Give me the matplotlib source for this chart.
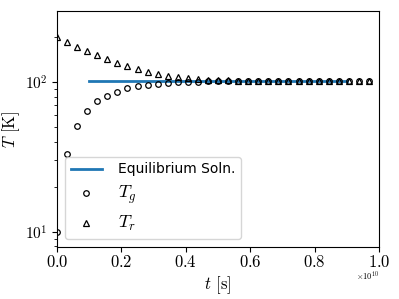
import numpy as np
import matplotlib
matplotlib.use("Agg")
import matplotlib.pyplot as plt
from matplotlib.ticker import ScalarFormatter, FuncFormatter

plt.rcParams['font.family'] = ['cmr10', 'DejaVu Serif']
plt.rcParams['mathtext.fontset'] = 'cm'
plt.rcParams['axes.formatter.use_mathtext'] = True
plt.rcParams['axes.unicode_minus'] = False

# time samples [s]
t = np.arange(32) * 0.03125e10

T_g = [10, 33.3, 51.2, 64.4, 74.3, 81.4, 86.5, 91.2, 94.0, 96.0, 97.4,
       98.6, 99.5, 100.2, 100.7, 101.1, 101.4, 101.6, 101.7, 101.8, 101.8,
       101.9, 101.9, 101.9, 101.9, 101.9, 101.9, 101.9, 101.9, 101.9, 101.9, 101.9]
T_r = [200, 185, 172, 162, 151, 143, 134.5, 128, 122, 117, 113,
       110, 107.5, 105.8, 104.5, 103.6, 103.0, 102.6, 102.3, 102.1, 102.0,
       102.0, 101.9, 101.9, 101.9, 101.9, 101.9, 101.9, 101.9, 101.9, 101.9, 101.9]

t_eq = [0.1e10, 0.9e10]
T_eq = [101.9, 101.9]

fig = plt.figure(figsize=(3.99, 2.99), dpi=100)
ax = fig.add_axes([0.143, 0.174, 0.807, 0.789])

ax.plot(t_eq, T_eq, color='#1f77b4', lw=2, label='Equilibrium Soln.')
ax.plot(t, T_g, 'o', mfc='none', mec='black', ms=4, mew=0.9, label=r'$T_g$')
ax.plot(t, T_r, '^', mfc='none', mec='black', ms=4, mew=0.9, label=r'$T_r$')

ax.set_yscale('log')
ax.set_ylim(7.94, 298)
ax.set_xlim(0, 1e10)

ax.yaxis.set_major_formatter(FuncFormatter(lambda v, p: r'$10^{%d}$' % round(np.log10(v))))
sf = ScalarFormatter(useMathText=True)
ax.xaxis.set_major_formatter(sf)
ax.xaxis.get_offset_text().set_visible(False)
fig.text(0.92, 0.077, r'$\times10^{10}$', fontsize=6, ha='center', va='center')

ax.tick_params(axis='x', labelsize=12, pad=1.5)
ax.tick_params(axis='y', labelsize=11)
ax.set_xlabel(r'$t$ [s]', fontsize=12, labelpad=3)
ax.set_ylabel(r'$T$ [K]', fontsize=12)
ax.yaxis.set_label_coords(-0.109, 0.5)

leg = ax.legend(loc='lower left', prop={'family': 'DejaVu Sans', 'size': 10},
                handlelength=2.2, handletextpad=1.2, borderaxespad=0.6,
                labelspacing=0.55)
for txt in leg.get_texts()[1:]:
    txt.set_fontsize(13)

fig.savefig('out.png', dpi=100)
